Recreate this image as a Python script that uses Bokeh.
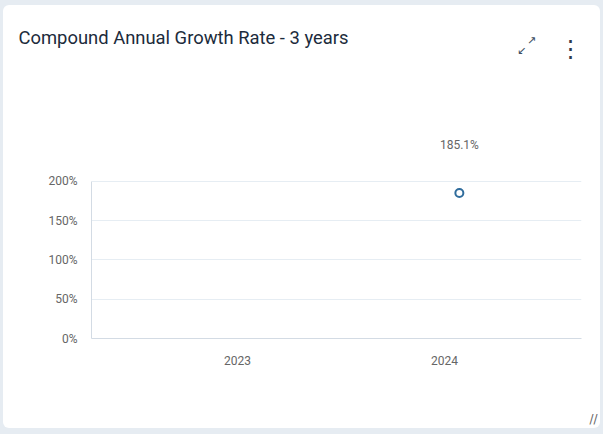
from bokeh.plotting import figure
from bokeh.models import Range1d, FixedTicker, ColumnDataSource
from bokeh.transform import dodge
from bokeh.layouts import column
from bokeh.embed import file_html
from bokeh.resources import INLINE
from bokeh.core.properties import value

# ---- data ----
years = [2023, 2024]
year_labels = ["2023", "2024"]
point_years = [2024]
cagr_values = [185.1]
point_labels = ["185.1%"]
y_ticks = [0, 50, 100, 150, 200]
y_tick_labels = ["0%", "50%", "100%", "150%", "200%"]

TITLE = "Compound Annual Growth Rate - 3 years"
FONT = "Roboto"
PAGE_BG = "#e6ecf2"
CARD_W = 597
HEADER_H, CHART_H, FOOTER_H = 113, 265, 45


def blank_panel(h, radius):
    f = figure(width=CARD_W, height=h, x_range=Range1d(0, CARD_W), y_range=Range1d(h, 0),
               output_backend="svg", toolbar_location=None,
               x_axis_location=None, y_axis_location=None,
               min_border=0, outline_line_color=None,
               background_fill_color=None, border_fill_color=None)
    f.frame_align = False
    f.xgrid.grid_line_color = None
    f.ygrid.grid_line_color = None
    f.styles = {"background-color": "white", "border-radius": radius, "overflow": "hidden"}
    return f


# ---- header (title + icons) ----
header = blank_panel(HEADER_H, "6px 6px 0 0")
header.margin = (5, 3, 0, 3)
header.text(x=[15], y=[32], text=[TITLE], text_font=value(FONT), text_font_size="18.4px",
            text_color="#1c2b3c", text_align="left", text_baseline="middle")
header.text(x=[528, 518], y=[35, 45], text=["\u2197", "\u2199"], text_font=value("DejaVu Sans"),
            text_font_size="11px", text_color="#3d4f63", text_align="center", text_baseline="middle")
header.text(x=[567], y=[43], text=["\u22ee"], text_font=value("DejaVu Sans"),
            text_font_size="24px", text_color="#2e3b4a", text_align="center", text_baseline="middle")

# ---- chart ----
src = ColumnDataSource(dict(x=point_years, y=cagr_values, label=point_labels))

p = figure(
    width=CARD_W, height=CHART_H,
    x_range=Range1d(2022.295, 2024.662),
    y_range=Range1d(0, 280),
    output_backend="svg", toolbar_location=None,
    min_border_left=88, min_border_right=19, min_border_bottom=45, min_border_top=0,
    background_fill_color=None, border_fill_color=None,
    outline_line_color=None,
)
p.frame_align = False
p.margin = (0, 3, 0, 3)
p.styles = {"background-color": "white"}

p.xaxis.ticker = FixedTicker(ticks=years)
p.xaxis.major_label_overrides = {y: l for y, l in zip(years, year_labels)}
p.yaxis.ticker = FixedTicker(ticks=y_ticks)
p.yaxis.major_label_overrides = {t: l for t, l in zip(y_ticks, y_tick_labels)}
p.yaxis.bounds = (0, 200)
for ax in (p.xaxis, p.yaxis):
    ax.axis_line_color = "#d3dbe4"
    ax.axis_line_width = 1
    ax.major_tick_line_color = None
    ax.minor_tick_line_color = None
    ax.major_label_text_font = FONT
    ax.major_label_text_font_size = "12px"
    ax.major_label_text_color = "#666666"
p.xaxis.major_label_standoff = 11
p.yaxis.major_label_standoff = 8

p.xgrid.grid_line_color = None
p.ygrid.grid_line_color = "#e6edf3"
p.ygrid.grid_line_width = 1

p.scatter(x=dodge("x", 0.072), y="y", source=src, size=8, marker="circle",
          fill_color="white", line_color="#2f6c9c", line_width=2)
p.text(x=dodge("x", 0.072), y="y", text="label", source=src,
       text_font=value(FONT), text_font_size="12px", text_color="#666666",
       text_align="center", text_baseline="middle", y_offset=-48)

# ---- footer (resize handle) ----
footer = blank_panel(FOOTER_H, "0 0 6px 6px")
footer.margin = (0, 3, 6, 3)
footer.text(x=[590], y=[35], text=["//"], text_font=value("DejaVu Sans"),
            text_font_size="12px", text_color="#666666", text_align="center", text_baseline="middle")

layout = column(header, p, footer, spacing=0, width=603, height=434,
                styles={"background-color": PAGE_BG})

open("out.html", "w").write(file_html(layout, INLINE))
